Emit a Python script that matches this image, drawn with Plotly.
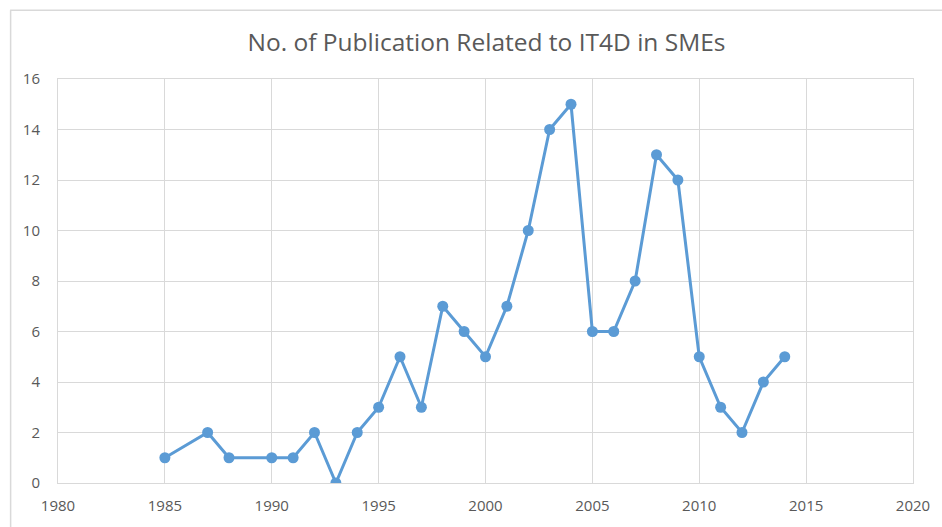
import plotly.graph_objects as go

years = [1985, 1987, 1988, 1990, 1991, 1992, 1993, 1994, 1995, 1996, 1997, 1998, 1999, 2000,
         2001, 2002, 2003, 2004, 2005, 2006, 2007, 2008, 2009, 2010, 2011, 2012, 2013, 2014]
counts = [1, 2, 1, 1, 1, 2, 0, 2, 3, 5, 3, 7, 6, 5,
          7, 10, 14, 15, 6, 6, 8, 13, 12, 5, 3, 2, 4, 5]
title_text = "No. of Publication Related to IT4D in SMEs"

W, H = 942, 527
L, R, T, B = 58, 915, 79, 488

fig = go.Figure()
fig.add_trace(go.Scatter(
    x=years, y=counts, mode="lines+markers",
    line=dict(color="#5B9BD5", width=3),
    marker=dict(color="#5B9BD5", size=11),
    showlegend=False,
))

grid = "#D9D9D9"
fig.update_layout(
    width=W, height=H,
    margin=dict(l=L, r=W - R, t=T, b=H - B, pad=0),
    paper_bgcolor="white", plot_bgcolor="white",
    font=dict(family="Open Sans, Liberation Sans, sans-serif", color="#595959", size=15),
    title=dict(text=title_text, x=(L + R) / 2 / W, xanchor="center",
               y=1 - 42 / H, yanchor="middle",
               font=dict(size=24.5, color="#595959")),
    xaxis=dict(range=[1980, 2020], tickmode="linear", tick0=1980, dtick=5,
               showgrid=True, gridcolor=grid, gridwidth=1, zeroline=False,
               showline=True, linecolor=grid, mirror=True, ticks="",
               ticklabelstandoff=9, tickfont=dict(size=15, color="#595959")),
    yaxis=dict(range=[0, 16], tickmode="linear", tick0=0, dtick=2,
               showgrid=True, gridcolor=grid, gridwidth=1, zeroline=False,
               showline=True, linecolor=grid, mirror=True, ticks="",
               ticklabelstandoff=14, tickfont=dict(size=15, color="#595959")),
)

pw, ph = R - L, B - T
def px_x(p):
    return (p - L) / pw
def px_y(p):
    return (B - p) / ph

fig.add_shape(type="line", xref="paper", yref="paper",
              x0=px_x(10), x1=px_x(960), y0=px_y(9.5), y1=px_y(9.5),
              line=dict(color="#D9D9D9", width=1.5))
fig.add_shape(type="line", xref="paper", yref="paper",
              x0=px_x(10.5), x1=px_x(10.5), y0=px_y(9.5), y1=px_y(560),
              line=dict(color="#D9D9D9", width=1.5))

fig.write_html(
    "out.html",
    config={"displayModeBar": False},
    post_script="document.body.style.margin='0';document.body.style.overflow='hidden';",
)
